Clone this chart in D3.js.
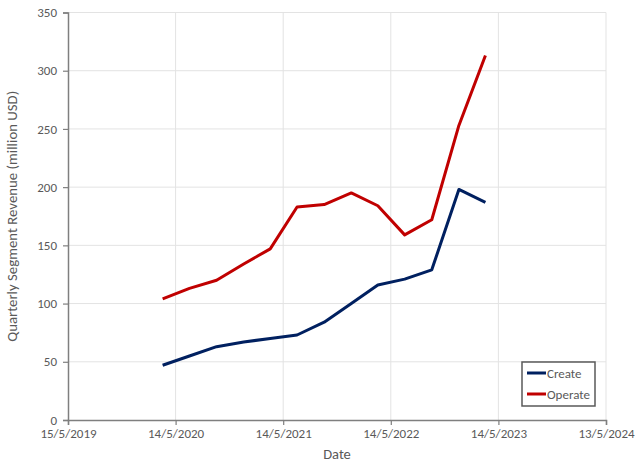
<!DOCTYPE html>
<html>
<head>
<meta charset="utf-8">
<script src="https://cdn.jsdelivr.net/npm/d3@7"></script>
<style>
  html, body { margin: 0; padding: 0; background: #fff; }
  svg { display: block; font-family: Carlito, Lato, "Open Sans", sans-serif; }
</style>
</head>
<body>
<svg id="chart" width="640" height="465"></svg>
<script>
const dates = ["2020-03-31","2020-06-30","2020-09-30","2020-12-31","2021-03-31","2021-06-30","2021-09-30","2021-12-31","2022-03-31","2022-06-30","2022-09-30","2022-12-31","2023-03-31"];
const createValues = [47, 55, 63, 67, 70, 73, 84, 100, 116, 121, 129, 198, 187];
const operateValues = [104, 113, 120, 134, 147, 183, 185, 195, 184, 159, 172, 253, 313];
const seriesNames = ["Create", "Operate"];
const seriesColors = ["#002060", "#C00000"];
const xTickDates = ["2019-05-15","2020-05-14","2021-05-14","2022-05-14","2023-05-14","2024-05-13"];
const yTicks = [0, 50, 100, 150, 200, 250, 300, 350];

const parse = d3.utcParse("%Y-%m-%d");
const fmt = d => `${d.getUTCDate()}/${d.getUTCMonth()+1}/${d.getUTCFullYear()}`;
const svg = d3.select("#chart");
const L = 68, R = 606, T = 12.5, B = 420;

const x = d3.scaleUtc().domain([parse(xTickDates[0]), parse(xTickDates[xTickDates.length-1])]).range([L, R]);
const y = d3.scaleLinear().domain([0, 350]).range([B, T]);

// gridlines
const grid = svg.append("g");
grid.selectAll("line.h").data(yTicks.filter(v => v > 0)).join("line")
  .attr("x1", L).attr("x2", R).attr("y1", d => y(d)).attr("y2", d => y(d))
  .attr("stroke", "#e3e3e3").attr("stroke-width", 1);
grid.selectAll("line.v").data(xTickDates.slice(1)).join("line")
  .attr("x1", d => x(parse(d))).attr("x2", d => x(parse(d))).attr("y1", T).attr("y2", B)
  .attr("stroke", "#e3e3e3").attr("stroke-width", 1);

// axes
const yAxis = svg.append("g").attr("transform", `translate(${L},0)`)
  .call(d3.axisLeft(y).tickValues(yTicks).tickSize(5).tickPadding(6));
const xAxis = svg.append("g").attr("transform", `translate(0,${B})`)
  .call(d3.axisBottom(x).tickValues(xTickDates.map(parse)).tickFormat(fmt).tickSize(5).tickPadding(4));
[yAxis, xAxis].forEach(a => {
  a.select(".domain").attr("stroke", "#7f7f7f").attr("stroke-width", 1.5);
  a.selectAll(".tick line").attr("stroke", "#7f7f7f").attr("stroke-width", 1.2);
  a.selectAll(".tick text").attr("fill", "#595959").attr("font-size", 13).attr("font-family", "Carlito, Lato, sans-serif");
});

// lines
const line = d3.line().x((d, i) => x(parse(dates[i]))).y(d => y(d));
[createValues, operateValues].forEach((vals, k) => {
  svg.append("path").datum(vals).attr("d", line)
    .attr("fill", "none").attr("stroke", seriesColors[k]).attr("stroke-width", 3)
    .attr("stroke-linejoin", "round");
});

// axis titles
svg.append("text").attr("x", (L + R) / 2).attr("y", 459).attr("text-anchor", "middle")
  .attr("fill", "#595959").attr("font-size", 14.5).text("Date");
svg.append("text").attr("transform", `translate(17,${(T + B) / 2}) rotate(-90)`)
  .attr("text-anchor", "middle").attr("fill", "#595959").attr("font-size", 14.8)
  .text("Quarterly Segment Revenue (million USD)");

// legend
const lg = svg.append("g");
lg.append("rect").attr("x", 522).attr("y", 362).attr("width", 73).attr("height", 44)
  .attr("fill", "#fff").attr("stroke", "#595959").attr("stroke-width", 1.5);
seriesNames.forEach((n, i) => {
  const yy = 373 + i * 21;
  lg.append("line").attr("x1", 527).attr("x2", 546).attr("y1", yy).attr("y2", yy)
    .attr("stroke", seriesColors[i]).attr("stroke-width", 3);
  lg.append("text").attr("x", 547).attr("y", yy + 4.5).attr("fill", "#595959")
    .attr("font-size", 13).text(n);
});
</script>
</body>
</html>
